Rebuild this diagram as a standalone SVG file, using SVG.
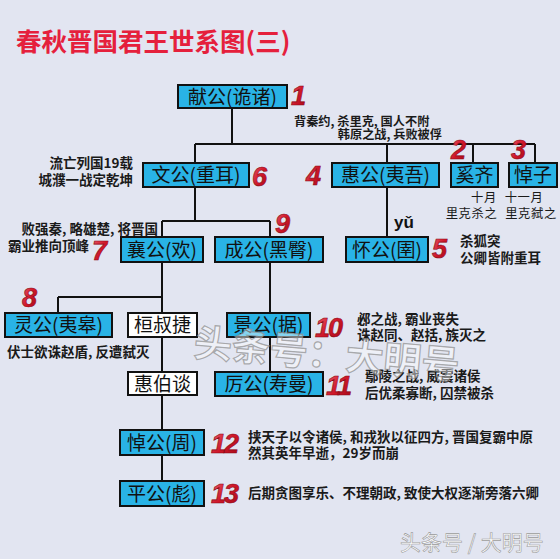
<svg xmlns="http://www.w3.org/2000/svg" width="560" height="559" viewBox="0 0 560 559">
<defs>
<linearGradient id="num" x1="0" y1="0" x2="1" y2="1">
<stop offset="0" stop-color="#f06070"/>
<stop offset="0.5" stop-color="#d0182a"/>
<stop offset="1" stop-color="#a00818"/>
</linearGradient>
<style>
.box{fill:#29b3e6;stroke:#111;stroke-width:2}
.wbox{fill:#ffffff;stroke:#111;stroke-width:2}
.lbl{font-family:"Noto Sans CJK SC","Noto Sans",sans-serif;font-size:19px;fill:#111;text-anchor:middle}
.note{font-family:"Noto Sans CJK SC","Noto Sans",sans-serif;font-size:13.5px;font-weight:bold;fill:#1a1a1a}
.sm{font-size:12.2px}
.note2{font-family:"Noto Sans CJK SC","Noto Sans",sans-serif;font-size:12.3px;fill:#1a1a1a;text-anchor:middle;letter-spacing:0.6px}
.num{font-family:"Liberation Sans",Arial,sans-serif;font-size:27px;font-weight:bold;font-style:italic;fill:url(#num);stroke:#8a0a14;stroke-width:0.6;letter-spacing:-2px}
.conn path{fill:none;stroke:#111;stroke-width:2}
</style>
</defs>
<rect width="560" height="559" fill="#e2e5f1"/>
<text x="16" y="51" font-family="'Noto Sans CJK SC',sans-serif" font-size="25.5" font-weight="bold" fill="#e5203c">春秋晋国君王世系图(三)</text>

<g class="conn" id="connectors">
<path d="M232,108 V144 M195,144 H535 M195,144 V163 M387,144 V163 M473,144 V163 M535,144 V163"/>
<path d="M195,187 V221 M162,221 H270 M162,221 V237 M270,221 V237"/>
<path d="M387,187 V237"/>
<path d="M162,262 V313 M58,297 H162 M58,297 V313"/>
<path d="M162,337 V372 M162,395 V430 M162,455 V481"/>
<path d="M270,262 V313 M270,337 V372"/>
</g>

<g id="xiangong"><rect class="box" x="178" y="85" width="109" height="23"/><text class="lbl" x="232.5" y="103.5">献公(诡诸)</text></g>
<g id="wengong"><rect class="box" x="143" y="163" width="106" height="24"/><text class="lbl" x="196" y="182">文公(重耳)</text></g>
<g id="huigong"><rect class="box" x="332" y="163" width="107" height="24"/><text class="lbl" x="385.5" y="182">惠公(夷吾)</text></g>
<g id="xiqi"><rect class="box" x="451" y="163" width="47" height="24"/><text class="lbl" x="474.5" y="182">奚齐</text></g>
<g id="daozi"><rect class="box" x="509" y="163" width="48" height="24"/><text class="lbl" x="533" y="182">悼子</text></g>
<g id="huaigong"><rect class="box" x="346" y="237" width="82" height="25"/><text class="lbl" x="387" y="256.5">怀公(圉)</text></g>
<g id="xianggong"><rect class="box" x="121" y="237" width="82" height="25"/><text class="lbl" x="162" y="256.5">襄公(欢)</text></g>
<g id="chenggong"><rect class="box" x="215" y="237" width="108" height="25"/><text class="lbl" x="269" y="256.5">成公(黑臀)</text></g>
<g id="linggong"><rect class="box" x="5" y="313" width="107" height="24"/><text class="lbl" x="58.5" y="332">灵公(夷皋)</text></g>
<g id="huanshujie"><rect class="wbox" x="128" y="313" width="69" height="24"/><text class="lbl" x="162.5" y="332">桓叔捷</text></g>
<g id="jinggong"><rect class="box" x="227" y="313" width="83" height="24"/><text class="lbl" x="268.5" y="332">景公(据)</text></g>
<g id="huibotan"><rect class="wbox" x="128" y="372" width="69" height="23"/><text class="lbl" x="162.5" y="390.5">惠伯谈</text></g>
<g id="ligong"><rect class="box" x="215" y="372" width="108" height="24"/><text class="lbl" x="269" y="391">厉公(寿曼)</text></g>
<g id="daogong"><rect class="box" x="120" y="430" width="84" height="25"/><text class="lbl" x="162" y="449.5">悼公(周)</text></g>
<g id="pinggong"><rect class="box" x="120" y="481" width="84" height="25"/><text class="lbl" x="162" y="500.5">平公(彪)</text></g>

<g id="numbers">
<text class="num" x="291" y="105">1</text>
<text class="num" x="451" y="159">2</text>
<text class="num" x="511" y="159">3</text>
<text class="num" x="306" y="185">4</text>
<text class="num" x="432" y="258">5</text>
<text class="num" x="252" y="186">6</text>
<text class="num" x="92" y="260">7</text>
<text class="num" x="22" y="307">8</text>
<text class="num" x="275" y="233">9</text>
<text class="num" x="315" y="337">10</text>
<text class="num" x="326" y="395">11</text>
<text class="num" x="211" y="453">12</text>
<text class="num" x="211" y="503">13</text>
</g>

<g id="notes">
<text class="note sm" x="294" y="126">背秦约, 杀里克, 国人不附</text>
<text class="note sm" x="442" y="139" text-anchor="end">韩原之战, 兵败被俘</text>
<text class="note" x="133" y="168" text-anchor="end">流亡列国19载</text>
<text class="note" x="133" y="185" text-anchor="end">城濮一战定乾坤</text>
<text class="note" x="158" y="234" text-anchor="end">败强秦, 略雄楚, 将晋国</text>
<text class="note" x="8" y="251">霸业推向顶峰</text>
<text class="note2" x="484" y="201.5">十月</text>
<text class="note2" x="471.5" y="217.5">里克杀之</text>
<text class="note2" x="524" y="201.5">十一月</text>
<text class="note2" x="531" y="217.5">里克弑之</text>
<text x="394" y="228" font-family="'Liberation Sans',Arial,sans-serif" font-size="17" font-weight="bold" fill="#111">yǔ</text>
<text class="note" x="460" y="246">杀狐突</text>
<text class="note" x="460" y="263">公卿皆附重耳</text>
<text class="note" x="7" y="357">伏士欲诛赵盾, 反遭弑灭</text>
<text class="note" x="357" y="324">邲之战, 霸业丧失</text>
<text class="note" x="357" y="340">诛赵同、赵括, 族灭之</text>
<text class="note" x="365" y="381">鄢陵之战, 威震诸侯</text>
<text class="note" x="365" y="398">后优柔寡断, 囚禁被杀</text>
<text class="note" x="248" y="442">挟天子以令诸侯, 和戎狄以征四方, 晋国复霸中原</text>
<text class="note" x="248" y="458">然其英年早逝，29岁而崩</text>
<text class="note" x="248" y="498">后期贪图享乐、不理朝政, 致使大权逐渐旁落六卿</text>
</g>

<g id="watermarks">
<text x="193" y="356" transform="rotate(5 193 356)" font-family="'Noto Sans CJK SC',sans-serif" font-size="38" font-weight="bold" fill="#ffffff" fill-opacity="0.45" stroke="#8a8a8a" stroke-opacity="0.7" stroke-width="1.2">头条号：大明号</text>
<text x="400" y="550" font-family="'Noto Sans CJK SC',sans-serif" font-size="21" fill="#ffffff" stroke="#9a9a9a" stroke-width="0.6">头条号 / 大明号</text>
</g>
</svg>
